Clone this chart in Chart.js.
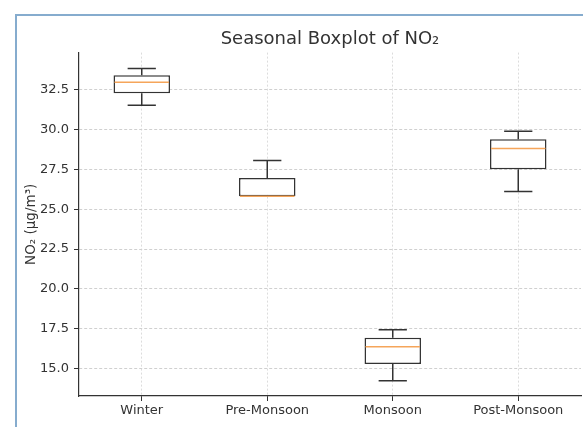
<!DOCTYPE html>
<html>
<head>
<meta charset="utf-8">
<script src="https://cdn.jsdelivr.net/npm/chart.js@4"></script>
<style>
  html, body { margin:0; padding:0; background:#fff; }
  #wrap { position:relative; width:583px; height:427px; overflow:hidden; }
  #frame { position:absolute; left:15px; top:14px; right:-5px; bottom:-5px;
           border-left:2px solid #86acce; border-top:2px solid #86acce; pointer-events:none; }
  canvas { position:absolute; left:0; top:0; }
</style>
</head>
<body>
<div id="wrap">
  <canvas id="myChart" width="583" height="427"></canvas>
  <div id="frame"></div>
</div>
<script>
// seasonal NO2 box stats
const seasons = ['Winter', 'Pre-Monsoon', 'Monsoon', 'Post-Monsoon']
const whiskerLow  = [31.5, 25.8, 14.25, 26.1]
const q1          = [32.25, 25.8, 15.3, 27.5]
const median      = [32.95, 25.8, 16.38, 28.8]
const q3          = [33.38, 26.95, 16.95, 29.38]
const whiskerHigh = [33.8, 28.05, 17.45, 29.88]
const yTicks = [15, 17.5, 20, 22.5, 25, 27.5, 30, 32.5]

const fontFam = 'DejaVu Sans'

// whiskers, caps and medians drawn through the chart scales
const boxExtras = {
  id: 'boxExtras',
  afterDatasetsDraw(chart) {
    const ctx = chart.ctx
    const x = chart.scales.x
    const y = chart.scales.y
    const catW = x.getPixelForValue(1) - x.getPixelForValue(0)
    const capHalf = catW * 0.45 / 4
    const boxHalf = catW * 0.45 / 2
    ctx.save()
    ctx.lineCap = 'butt'
    for (let i = 0; i < seasons.length; i++) {
      const cx = x.getPixelForValue(i)
      ctx.strokeStyle = '#333'
      ctx.lineWidth = 1.5
      ctx.beginPath()
      ctx.moveTo(cx, y.getPixelForValue(q3[i]))
      ctx.lineTo(cx, y.getPixelForValue(whiskerHigh[i]))
      ctx.moveTo(cx, y.getPixelForValue(q1[i]))
      ctx.lineTo(cx, y.getPixelForValue(whiskerLow[i]))
      ctx.moveTo(cx - capHalf, y.getPixelForValue(whiskerHigh[i]))
      ctx.lineTo(cx + capHalf, y.getPixelForValue(whiskerHigh[i]))
      ctx.moveTo(cx - capHalf, y.getPixelForValue(whiskerLow[i]))
      ctx.lineTo(cx + capHalf, y.getPixelForValue(whiskerLow[i]))
      ctx.stroke()
      ctx.strokeStyle = '#f5a55a'
      ctx.lineWidth = 1.5
      ctx.beginPath()
      ctx.moveTo(cx - boxHalf + 1, y.getPixelForValue(median[i]))
      ctx.lineTo(cx + boxHalf - 1, y.getPixelForValue(median[i]))
      ctx.stroke()
    }
    ctx.restore()
  }
}

const data = {
  labels: seasons,
  datasets: [{
    label: 'NO2',
    data: seasons.map((s, i) => [q1[i], q3[i]]),
    backgroundColor: '#ffffff',
    borderColor: '#333',
    borderWidth: 1.5,
    borderSkipped: false,
    barPercentage: 0.45,
    categoryPercentage: 1
  }]
}

const config = {
  type: 'bar',
  data: data,
  plugins: [boxExtras],
  options: {
    responsive: false,
    animation: false,
    layout: { padding: { left: 14, right: 2, top: 0, bottom: 0 } },
    plugins: {
      legend: { display: false },
      tooltip: { enabled: false },
      title: {
        display: true,
        text: 'Seasonal Boxplot of NO₂',
        fullSize: false,
        color: '#333',
        font: { family: fontFam, size: 18, weight: 'normal' },
        padding: { top: 29, bottom: 2 }
      }
    },
    scales: {
      x: {
        offset: true,
        grid: {
          offset: false,
          color: '#dcdcdc',
          tickColor: '#333',
          tickLength: 5,
          tickBorderDash: []
        },
        border: { display: true, color: '#333', width: 1.2, dash: [2, 2] },
        ticks: { color: '#333', padding: 2, font: { family: fontFam, size: 13 } },
        afterFit: (scale) => { scale.height = 31 }
      },
      y: {
        min: 13.3,
        max: 34.8,
        afterBuildTicks: (scale) => { scale.ticks = yTicks.map(v => ({ value: v })) },
        grid: {
          color: '#d0d0d0',
          tickColor: '#333',
          tickLength: 5,
          tickBorderDash: []
        },
        border: { display: true, color: '#333', width: 1.2, dash: [3, 2] },
        ticks: {
          color: '#333',
          padding: 5,
          font: { family: fontFam, size: 13 },
          callback: (v) => Number(v).toFixed(1)
        },
        title: {
          display: true,
          text: 'NO₂ (μg/m³)',
          color: '#333',
          font: { family: fontFam, size: 13.5 },
          padding: { top: 9, bottom: 0 }
        },
        afterFit: (scale) => { scale.width = 65 }
      }
    }
  }
}

const myChart = new Chart(document.getElementById('myChart'), config)
</script>
</body>
</html>
